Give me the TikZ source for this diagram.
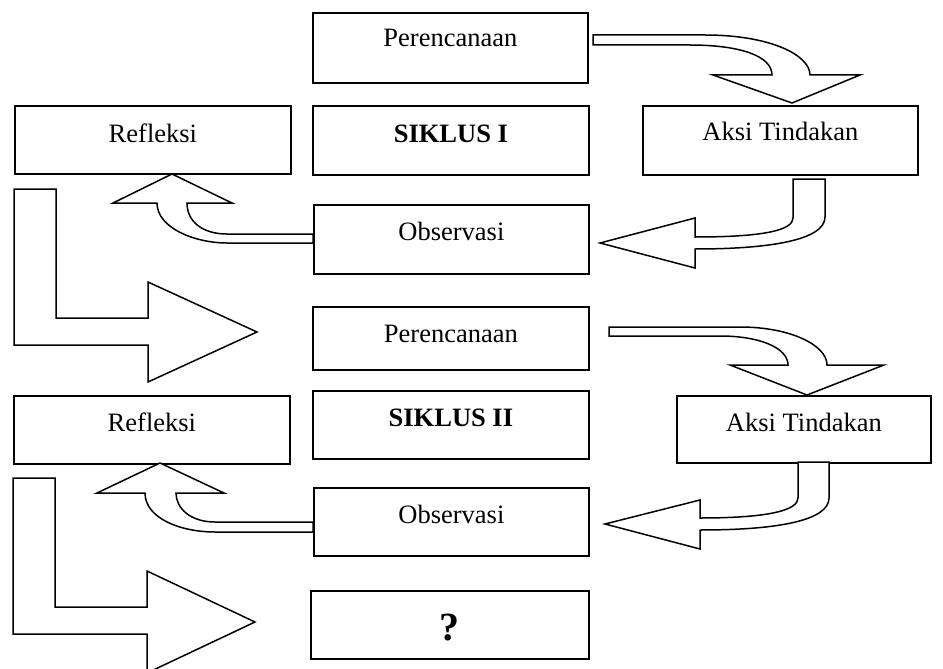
\documentclass[tikz,border=0pt]{standalone}
\usepackage{fontspec}
\setmainfont{Liberation Serif}
\begin{document}
\begin{tikzpicture}[x=1pt,y=-1pt,
  box/.style={draw=black, line width=1.8pt, fill=white, anchor=north west, inner sep=0pt},
  lbl/.style={anchor=base, inner sep=0pt, font=\fontsize{26.5}{30}\selectfont},
  blbl/.style={lbl, font=\fontsize{26.5}{30}\selectfont\bfseries},
  blockarrow/.style={draw=black, line width=1.5pt, fill=white, line join=miter}]
\useasboundingbox (0,0) rectangle (943,669);
\clip (0,0) rectangle (943,669);
% boxes
\node[box, minimum width=275, minimum height=70] (p1) at (312,12) {};
\node[box, minimum width=276, minimum height=69] (s1) at (312,105) {};
\node[box, minimum width=276, minimum height=68] (r1) at (14,105) {};
\node[box, minimum width=275, minimum height=69] (a1) at (642,105) {};
\node[box, minimum width=275, minimum height=69] (o1) at (313,204) {};
\node[box, minimum width=276, minimum height=63] (p2) at (312,306) {};
\node[box, minimum width=276, minimum height=68] (s2) at (312,390) {};
\node[box, minimum width=276, minimum height=68] (r2) at (13,395) {};
\node[box, minimum width=254, minimum height=67] (a2) at (676,395) {};
\node[box, minimum width=275, minimum height=68] (o2) at (313,487) {};
\node[box, minimum width=278, minimum height=68] (q) at (310,590) {};
% labels
\node[lbl] (p1t) at ([yshift=-35pt]p1.north) {Perencanaan};
\node[blbl] (s1t) at ([yshift=-37pt]s1.north) {SIKLUS I};
\node[lbl] (r1t) at ([yshift=-37pt]r1.north) {Refleksi};
\node[lbl] (a1t) at ([yshift=-35pt]a1.north) {Aksi Tindakan};
\node[lbl] (o1t) at ([yshift=-36pt]o1.north) {Observasi};
\node[lbl] (p2t) at ([yshift=-36pt]p2.north) {Perencanaan};
\node[blbl] (s2t) at ([yshift=-36pt]s2.north) {SIKLUS II};
\node[lbl] (r2t) at ([yshift=-36pt]r2.north) {Refleksi};
\node[lbl] (a2t) at ([yshift=-36pt]a2.north) {Aksi Tindakan};
\node[lbl] (o2t) at ([yshift=-36pt]o2.north) {Observasi};
\node[anchor=base, inner sep=0pt, font=\fontsize{40}{44}\selectfont\bfseries] (qt) at ([yshift=-50pt]q.north) {?};
% block arrows, cycle I
\draw[blockarrow] (593,35) -- (705,35) .. controls (770,35) and (810,55) .. (810,75)
  -- (860,75) -- (792,103) -- (713,75) -- (772,75)
  .. controls (772,56) and (740,45) .. (690,45) -- (593,45) -- cycle;
\draw[blockarrow] (793,179) -- (825,179) -- (825,217)
  .. controls (825,240) and (770,249) .. (695,249) -- (695,268) -- (600,243) -- (695,218) -- (695,237)
  .. controls (765,237) and (793,230) .. (793,218) -- cycle;
\draw[blockarrow] (313,234) -- (227,234) .. controls (203,234) and (187,222) .. (187,203)
  -- (232,203) -- (172,174) -- (113,203) -- (157,203)
  .. controls (157,228) and (195,243) .. (227,243) -- (313,243) -- cycle;
\draw[blockarrow] (14,189) -- (56,189) -- (56,318) -- (148,318) -- (148,282) -- (257,332)
  -- (148,382) -- (148,345) -- (14,345) -- cycle;
% block arrows, cycle II
\draw[blockarrow] (609,327) -- (740,327) .. controls (790,327) and (827,345) .. (827,365)
  -- (884,365) -- (807,395) -- (730,365) -- (788,365)
  .. controls (788,348) and (760,336) .. (720,336) -- (609,336) -- cycle;
\draw[blockarrow] (798,462) -- (829,462) -- (829,498)
  .. controls (829,520) and (780,530) .. (700,530) -- (700,549) -- (605,524) -- (700,500) -- (700,518)
  .. controls (770,518) and (798,510) .. (798,498) -- cycle;
\draw[blockarrow] (313,522) -- (215,522) .. controls (190,522) and (176,508) .. (176,493)
  -- (224,493) -- (160,463) -- (97,493) -- (145,493)
  .. controls (145,518) and (180,532) .. (215,532) -- (313,532) -- cycle;
\draw[blockarrow] (13,478) -- (55,478) -- (55,607) -- (147,607) -- (147,571) -- (255,622)
  -- (147,673) -- (147,634) -- (13,634) -- cycle;
\end{tikzpicture}
\end{document}
